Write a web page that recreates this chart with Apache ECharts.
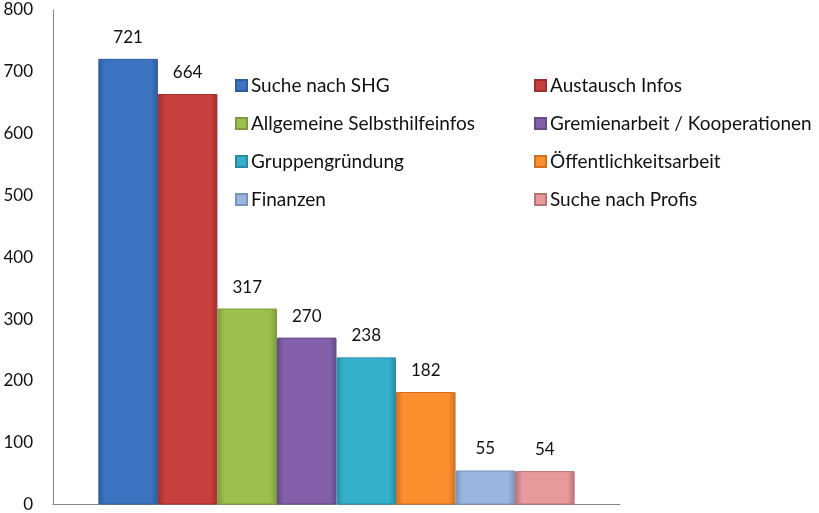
<!DOCTYPE html>
<html><head><meta charset="utf-8">
<script src="https://cdn.jsdelivr.net/npm/echarts@6/dist/echarts.min.js"></script>
<style>html,body{margin:0;padding:0;background:#fff}#c{width:819px;height:513px}</style>
</head><body><div id="c"></div>
<script>
const names = ['Suche nach SHG','Austausch Infos','Allgemeine Selbsthilfeinfos','Gremienarbeit / Kooperationen','Gruppengründung','Öffentlichkeitsarbeit','Finanzen','Suche nach Profis'];
const values = [721,664,317,270,238,182,55,54];
const colors = [['#3d74c2','#2e5c9c'],['#c8403d','#9e2f2d'],['#9dc04c','#7c9b3a'],['#8560aa','#654a86'],['#35b0cc','#2a8aa2'],['#fb8f2e','#d07020'],['#9ab6e0','#7892bb'],['#e69a9c','#b87375']];
const legendLeft = [names[0],names[2],names[4],names[6]];
const legendRight = [names[1],names[3],names[5],names[7]];
const font = 'Lato, "Open Sans", sans-serif';
const series = names.map((n,i)=>({
  name:n, type:'bar', data:[values[i]], barGap:'0%', barCategoryGap:'16%',
  itemStyle:{
    color:{type:'linear',x:0,y:0,x2:1,y2:0,colorStops:[{offset:0,color:colors[i][1]},{offset:0.12,color:colors[i][0]},{offset:0.88,color:colors[i][0]},{offset:1,color:colors[i][1]}]},
    borderColor:colors[i][1], borderWidth:1
  },
  label:{show:true, position:'top', distance:13, color:'#111', fontSize:17, fontFamily:font}
}));
const legendCommon = {orient:'vertical', itemWidth:11, itemHeight:11, itemGap:19, icon:'rect',
  textStyle:{fontSize:19, lineHeight:19, color:'#111', fontFamily:font, padding:[0,0,0,-1]}, top:71};
const chart = echarts.init(document.getElementById('c'));
chart.setOption({
  animation:false,
  color: colors.map(c=>c[0]),
  grid:{left:53, top:10, right:199, bottom:7, containLabel:false},
  legend:[
    Object.assign({}, legendCommon, {left:230, data:legendLeft}),
    Object.assign({}, legendCommon, {left:529, data:legendRight})
  ],
  xAxis:{type:'category', data:[''], axisLine:{lineStyle:{color:'#868686'}}, axisTick:{show:false}, axisLabel:{show:false}},
  yAxis:{type:'value', min:0, max:800, interval:100,
    axisLine:{show:true, lineStyle:{color:'#868686'}}, axisTick:{show:false}, splitLine:{show:false},
    axisLabel:{fontSize:17, color:'#111', fontFamily:font, margin:20}},
  series: series
});
</script></body></html>
